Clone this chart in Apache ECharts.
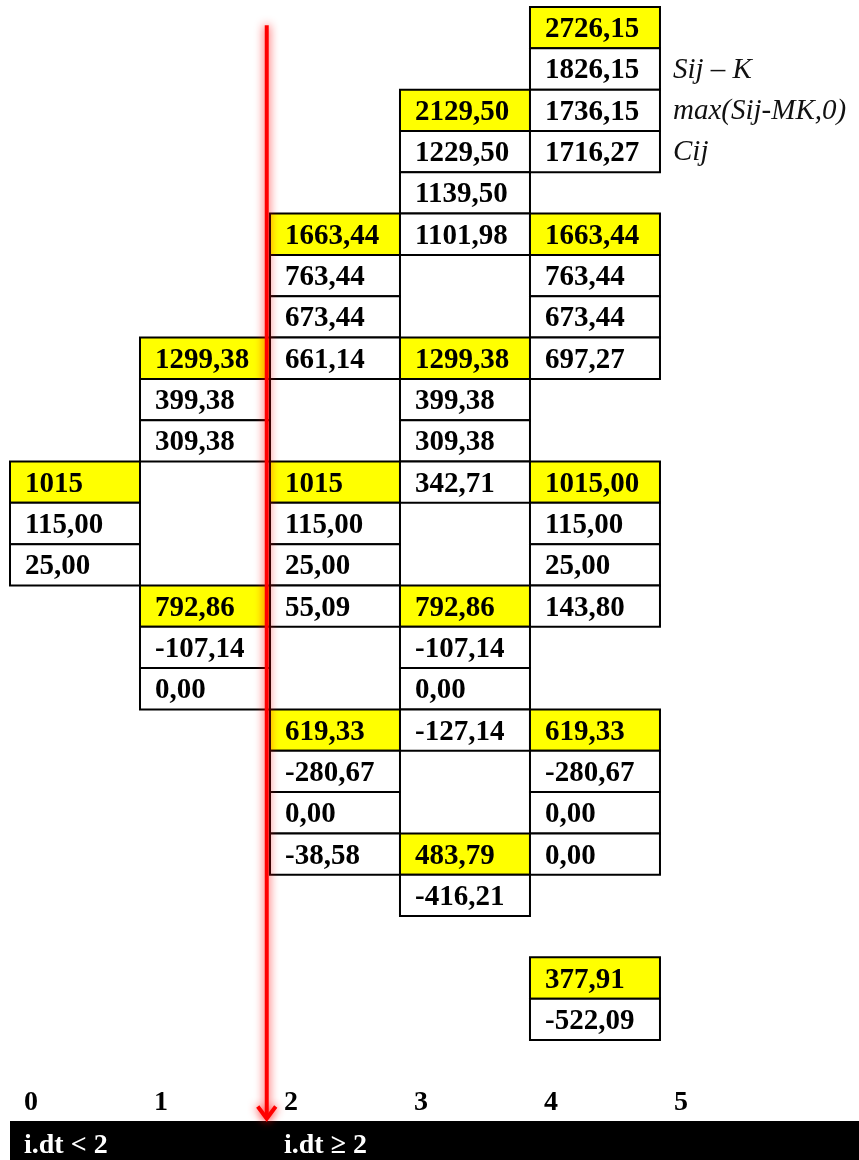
<!DOCTYPE html>
<html lang="">
<head>
  <meta charset="utf-8">
  <title>Tree</title>
  <script src="https://cdn.jsdelivr.net/npm/echarts@6/dist/echarts.min.js"></script>
  <style>
    html, body { margin: 0; padding: 0; background: #fff; }
  </style>
</head>
<body>
<div id="main" style="width: 859px;height:1160px;"></div>
<script type="text/javascript">
    // step labels on the time axis
    var steps = ['0', '1', '2', '3', '4', '5'];
    var bandLabels = {0: 'i.dt < 2', 2: 'i.dt \u2265 2'};

    // cell texts per column, one entry per row (null = empty)
    var col0 = [null, null, null, null, null, null, null, null, null, null, null,
        '1015', '115,00', '25,00'];
    var col1 = [null, null, null, null, null, null, null, null,
        '1299,38', '399,38', '309,38', null, null, null,
        '792,86', '-107,14', '0,00'];
    var col2 = [null, null, null, null, null,
        '1663,44', '763,44', '673,44', '661,14', null, null,
        '1015', '115,00', '25,00', '55,09', null, null,
        '619,33', '-280,67', '0,00', '-38,58'];
    var col3 = [null, null,
        '2129,50', '1229,50', '1139,50', '1101,98', null, null,
        '1299,38', '399,38', '309,38', '342,71', null, null,
        '792,86', '-107,14', '0,00', '-127,14', null, null,
        '483,79', '-416,21'];
    var col4 = ['2726,15', '1826,15', '1736,15', '1716,27', null,
        '1663,44', '763,44', '673,44', '697,27', null, null,
        '1015,00', '115,00', '25,00', '143,80', null, null,
        '619,33', '-280,67', '0,00', '0,00', null, null,
        '377,91', '-522,09'];

    // rows holding a node price (yellow)
    var nodeRows = [[11], [8, 14], [5, 11, 17], [2, 8, 14, 20], [0, 5, 11, 17, 23]];

    // legend notes beside column 4
    var notes = [[5, 1, 'Sij \u2013 K'], [5, 2, 'max(Sij-MK,0)'], [5, 3, 'Cij']];

    // arrow: [x, from row, to row]
    var arrow = [1.975, 0.44, 26.95];

    var columns = [col0, col1, col2, col3, col4];
    var cells = [];
    columns.forEach(function (col, c) {
        col.forEach(function (txt, r) {
            if (txt !== null) {
                cells.push({value: [c, r], label: txt, node: nodeRows[c].indexOf(r) >= 0});
            }
        });
    });

    var serif = '"Liberation Serif", "DejaVu Serif", serif';

    var myChart = echarts.init(document.getElementById('main'));

    var option = {
        animation: false,
        grid: {left: 10, right: 0, top: 7, bottom: 120},
        xAxis: [{
            type: 'value',
            min: 0,
            max: 6.531,
            interval: 1,
            axisLine: {show: false},
            axisTick: {show: false},
            splitLine: {show: false},
            axisLabel: {
                showMaxLabel: false,
                margin: 49,
                align: 'left',
                padding: [0, 0, 0, 14],
                color: '#000',
                fontFamily: serif,
                fontWeight: 'bold',
                fontSize: 28,
                formatter: function (v) { return steps[v] || ''; }
            }
        }, {
            type: 'value',
            position: 'bottom',
            offset: 100.5,
            min: 0,
            max: 6.531,
            interval: 1,
            axisLine: {show: true, lineStyle: {color: '#000', width: 39, cap: 'butt'}},
            axisTick: {show: false},
            splitLine: {show: false},
            axisLabel: {
                showMaxLabel: false,
                margin: -9,
                align: 'left',
                padding: [0, 0, 0, 14],
                color: '#fff',
                fontFamily: serif,
                fontWeight: 'bold',
                fontSize: 28,
                formatter: function (v) { return bandLabels[v] || ''; }
            }
        }],
        yAxis: {
            type: 'value',
            inverse: true,
            min: 0,
            max: 25,
            show: false
        },
        series: [{
            type: 'custom',
            data: cells,
            z: 2,
            renderItem: function (params, api) {
                var cell = cells[params.dataIndex];
                var p = api.coord([api.value(0), api.value(1)]);
                var s = api.size([1, 1]);
                return {
                    type: 'group',
                    children: [{
                        type: 'rect',
                        shape: {x: p[0], y: p[1], width: s[0], height: s[1]},
                        style: {fill: cell.node ? '#ffff00' : '#fff', stroke: '#000', lineWidth: 2}
                    }, {
                        type: 'text',
                        x: p[0] + 15,
                        y: p[1] + s[1] / 2 + 2,
                        style: {
                            text: cell.label,
                            fill: '#000',
                            fontFamily: serif,
                            fontWeight: 'bold',
                            fontSize: 29,
                            align: 'left',
                            verticalAlign: 'middle'
                        }
                    }]
                };
            }
        }, {
            type: 'custom',
            data: notes,
            z: 2,
            renderItem: function (params, api) {
                var p = api.coord([api.value(0), api.value(1)]);
                var s = api.size([1, 1]);
                return {
                    type: 'text',
                    x: p[0] + 13,
                    y: p[1] + s[1] / 2 + 1,
                    style: {
                        text: notes[params.dataIndex][2],
                        fill: '#111',
                        fontFamily: serif,
                        fontStyle: 'italic',
                        fontSize: 29,
                        align: 'left',
                        verticalAlign: 'middle'
                    }
                };
            }
        }, {
            type: 'custom',
            data: [arrow],
            z: 5,
            renderItem: function (params, api) {
                var a = api.coord([api.value(0), api.value(1)]);
                var b = api.coord([api.value(0), api.value(2)]);
                var glow = {stroke: '#ff0000', lineWidth: 4, shadowBlur: 10, shadowColor: 'rgba(255,0,0,0.9)', fill: null};
                return {
                    type: 'group',
                    children: [{
                        type: 'line',
                        shape: {x1: a[0], y1: a[1], x2: b[0], y2: b[1] - 2},
                        style: glow
                    }, {
                        type: 'polyline',
                        shape: {points: [[b[0] - 9, b[1] - 14], [b[0], b[1] - 2], [b[0] + 9, b[1] - 14]]},
                        style: glow
                    }]
                };
            }
        }]
    };

    myChart.setOption(option);
</script>
</body>
</html>
